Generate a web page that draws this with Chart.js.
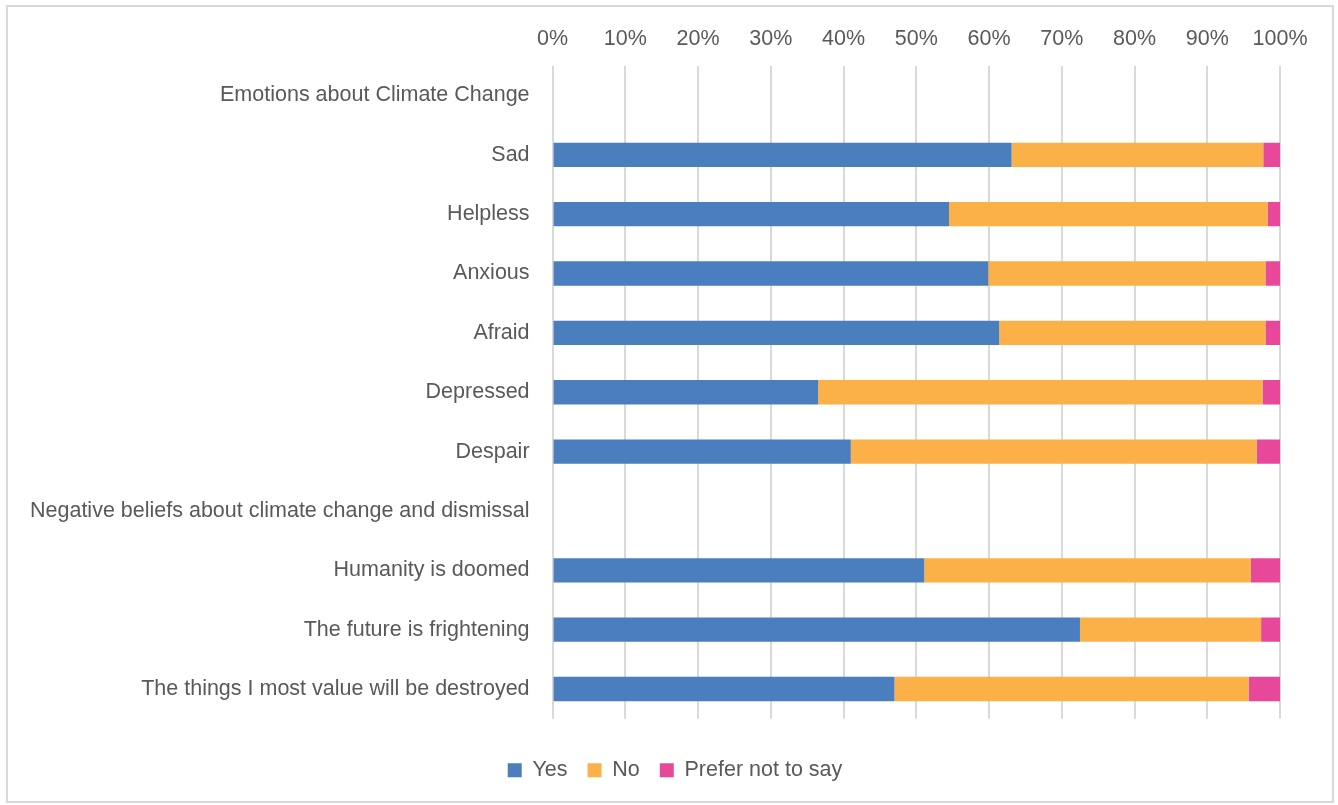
<!DOCTYPE html>
<html>
<head>
<meta charset="utf-8">
<script src="https://cdn.jsdelivr.net/npm/chart.js@4"></script>
<style>
  body { margin: 0; background: #fff; }
  #frame { position: absolute; left: 6px; top: 5px; width: 1324px; height: 794px; border: 2px solid #d9d9d9; }
  #wrap { position: absolute; left: 0; top: 0; width: 1338px; height: 805px; }
</style>
</head>
<body>
<div id="frame"></div>
<div id="wrap"><canvas id="chart"></canvas></div>
<script>
// categories, top to bottom (header rows have no bars)
const categories = [
  'Emotions about Climate Change',
  'Sad',
  'Helpless',
  'Anxious',
  'Afraid',
  'Depressed',
  'Despair',
  'Negative beliefs about climate change and dismissal',
  'Humanity is doomed',
  'The future is frightening',
  'The things I most value will be destroyed'
];
const yes    = [null, 63.1, 54.5, 59.9, 61.4, 36.5, 41.0, null, 51.1, 72.5, 47.0];
const no     = [null, 34.6, 43.8, 38.1, 36.6, 61.1, 55.8, null, 44.9, 24.9, 48.7];
const prefer = [null,  2.3,  1.7,  2.0,  2.0,  2.4,  3.2, null,  4.0,  2.6,  4.3];

const textColor = '#595959';
const fontFamily = 'Liberation Sans, Arial, sans-serif';
const fontSize = 21.5;

// legend in the original is centred on the whole frame, not the plot box
const legendShift = {
  id: 'legendShift',
  beforeDraw(chart) {
    chart.legend.left = 70;
  }
};

const ctx = document.getElementById('chart').getContext('2d');
new Chart(ctx, {
  type: 'bar',
  data: {
    labels: categories,
    datasets: [
      { label: 'Yes', data: yes, backgroundColor: '#4a7ebf' },
      { label: 'No', data: no, backgroundColor: '#fbb148' },
      { label: 'Prefer not to say', data: prefer, backgroundColor: '#e8489a' }
    ]
  },
  options: {
    indexAxis: 'y',
    responsive: true,
    maintainAspectRatio: false,
    animation: false,
    layout: { padding: { top: 12, right: 58, left: 15, bottom: 14 } },
    datasets: {
      bar: { categoryPercentage: 1, barPercentage: 0.41, borderWidth: 0 }
    },
    scales: {
      x: {
        position: 'top',
        stacked: true,
        min: 0,
        max: 100,
        ticks: {
          stepSize: 10,
          color: textColor,
          font: { family: fontFamily, size: fontSize },
          padding: 14,
          callback: v => v + '%'
        },
        grid: { color: '#d9d9d9', lineWidth: 2, drawTicks: false },
        border: { display: false }
      },
      y: {
        stacked: true,
        ticks: {
          color: textColor,
          font: { family: fontFamily, size: fontSize },
          padding: 15
        },
        grid: { display: false },
        border: { display: false }
      }
    },
    plugins: {
      legend: {
        position: 'bottom',
        title: { display: true, text: ' ', padding: 2, font: { size: 14 } },
        labels: {
          color: textColor,
          font: { family: fontFamily, size: fontSize },
          boxWidth: 14,
          boxHeight: 14,
          padding: 20
        }
      },
      tooltip: { enabled: false }
    }
  },
  plugins: [legendShift]
});
</script>
</body>
</html>
